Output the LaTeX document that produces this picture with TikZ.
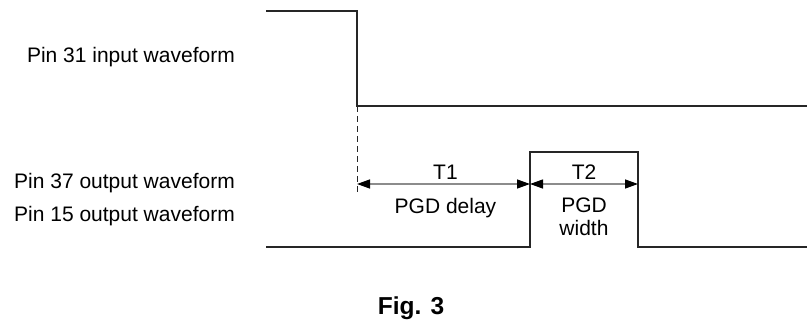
\documentclass[tikz,border=0pt]{standalone}
\usepackage{fontspec}
\setmainfont{Liberation Sans}
\usetikzlibrary{calc,arrows.meta}
\def\drawwave{\draw[color=black!85, line width=1.8pt]}
\def\drawspan{\draw[color=black!45, line width=1.3pt, {Triangle[length=13pt,width=9pt,color=black]}-{Triangle[length=13pt,width=9pt,color=black]}]}
\tikzset{pinlabel/.style={anchor=base east, inner sep=0pt, font=\fontsize{21}{25}\selectfont},
  spanlabel/.style={anchor=base, inner sep=0pt, font=\fontsize{21}{25}\selectfont, align=center}}

\begin{document}
\begin{tikzpicture}[x=1pt,y=-1pt]
\useasboundingbox (0,0) rectangle (807,324);

% ---------- input waveform (pin 31)
\coordinate (in_start) at (266,11);
\coordinate (in_fall_top) at (357,11);
\coordinate (in_fall) at (357,106); % falling edge, T1 starts here
\coordinate (in_end) at (807,106);
\drawwave (in_start) -- (in_fall_top) -- (in_fall) -- (in_end);

% ---------- output waveform (pins 37 and 15)
\coordinate (out_start) at (266,247);
\coordinate (rise_low) at (530,247);
\coordinate (rise_high) at (530,152);
\coordinate (fall_high) at (638,152);
\coordinate (fall_low) at (638,247);
\coordinate (out_end) at (807,247);
\drawwave (out_start) -- (rise_low) -- (rise_high) -- (fall_high) -- (fall_low) -- (out_end);

% dashed marker down from the falling edge
\coordinate (dash_end) at (357,195);
\draw[color=black!85, line width=0.9pt, dash pattern=on 6pt off 4pt] (in_fall) -- (dash_end);

% ---------- T1 and T2 spans
\coordinate (t1_left) at (357,184);
\coordinate (t1_right) at (530,184);
\coordinate (t2_right) at (638,184);
\drawspan (t1_left) -- (t1_right);
\drawspan (t1_right) -- (t2_right);

\node[spanlabel] (t1) at ($ (t1_left)!.5!(t1_right) + (2,-5) $) {T1};
\node[spanlabel] (delay) at ($ (t1_left)!.5!(t1_right) + (2,29) $) {PGD delay};
\node[spanlabel] (t2) at ($ (t1_right)!.5!(t2_right) + (0,-5) $) {T2};
\node[spanlabel, anchor=north] (width) at ($ (t1_right)!.5!(t2_right) + (0,14) $) {PGD\\[-2pt]width};

% ---------- pin labels
\node[pinlabel] (pin31) at (235,62) {Pin 31 input waveform};
\node[pinlabel] (pin37) at (235,188) {Pin 37 output waveform};
\node[pinlabel] (pin15) at (235,221) {Pin 15 output waveform};

% caption
\node[anchor=base, inner sep=0pt, font=\fontsize{24.5}{28}\selectfont\bfseries] (caption) at (411,314) {Fig. 3};
\end{tikzpicture}
\end{document}
